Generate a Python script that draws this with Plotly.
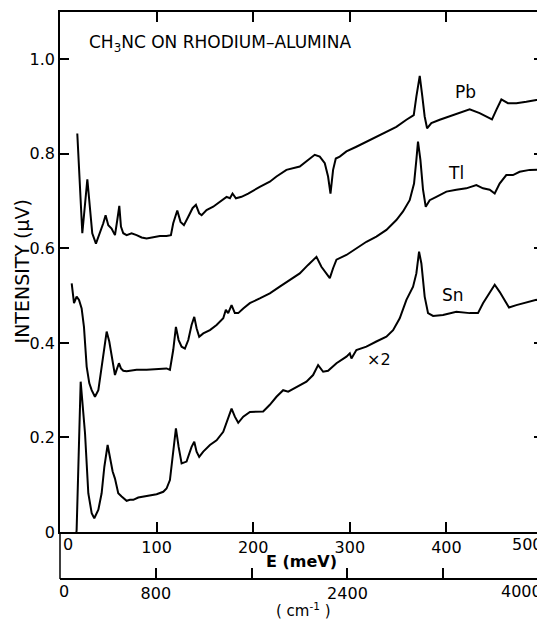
import plotly.graph_objects as go

# ---------------- data (E in meV, intensity in microvolts) ----------------
pb_E = [17.9, 23.1, 28.3, 31.0, 33.4, 37.2, 41.4, 44.8, 47.2, 50.0, 53.4, 56.9, 59.3, 61.4, 63.1,
        65.5, 69.0, 74.1, 79.3, 84.5, 89.7, 96.6, 103.4, 110.3, 114.8, 117.2, 121.4, 124.8, 128.3,
        132.8, 137.2, 140.7, 144.1, 146.6, 151.7, 158.6, 165.5, 172.4, 175.9, 178.6, 182.1, 187.9,
        194.8, 201.7, 206.8, 217.2, 224.1, 234.4, 248.2, 256.8, 263.7, 268.9, 274.1, 277.5, 280.0,
        282.7, 285.5, 289.6, 296.5, 306.8, 317.2, 327.5, 337.9, 348.2, 358.6, 366.2, 368.9, 372.4,
        375.1, 377.5, 380.0, 384.4, 393.1, 403.4, 413.7, 424.1, 434.4, 441.3, 447.2, 451.7, 456.9,
        463.7, 472.4, 482.7, 493.1, 500.0]
pb_I = [0.843, 0.632, 0.746, 0.681, 0.632, 0.610, 0.632, 0.653, 0.670, 0.649, 0.642, 0.628, 0.660,
        0.690, 0.646, 0.632, 0.628, 0.632, 0.628, 0.623, 0.621, 0.623, 0.626, 0.626, 0.628, 0.653,
        0.680, 0.656, 0.649, 0.667, 0.685, 0.692, 0.674, 0.670, 0.681, 0.688, 0.699, 0.709, 0.706,
        0.716, 0.706, 0.709, 0.716, 0.725, 0.730, 0.741, 0.752, 0.766, 0.773, 0.787, 0.798, 0.794,
        0.780, 0.752, 0.716, 0.766, 0.790, 0.794, 0.805, 0.815, 0.826, 0.836, 0.847, 0.857, 0.872,
        0.882, 0.921, 0.965, 0.921, 0.879, 0.854, 0.865, 0.872, 0.879, 0.886, 0.894, 0.886, 0.879,
        0.873, 0.893, 0.915, 0.907, 0.907, 0.910, 0.914, 0.915]

tl_E = [12.1, 14.5, 17.2, 19.7, 22.4, 24.8, 27.6, 30.3, 32.8, 36.2, 39.7, 43.1, 45.9, 48.3, 51.0,
        54.5, 56.9, 58.6, 61.0, 63.1, 65.5, 69.0, 79.3, 89.7, 100.0, 110.3, 113.8, 117.2, 120.0,
        122.8, 125.9, 129.3, 132.8, 136.2, 139.0, 141.4, 144.1, 148.3, 155.2, 162.1, 169.0, 171.7,
        174.1, 177.6, 181.0, 184.5, 189.7, 196.5, 206.8, 217.2, 227.5, 237.9, 248.2, 256.8, 262.0,
        265.5, 270.6, 275.8, 279.3, 282.7, 286.2, 296.5, 306.8, 317.2, 327.5, 337.9, 348.2, 355.1,
        362.0, 366.5, 368.9, 370.6, 373.1, 375.8, 378.6, 382.7, 389.6, 400.0, 410.3, 420.6, 431.0,
        437.9, 444.8, 450.0, 455.1, 462.0, 468.9, 475.8, 486.2, 500.0]
tl_I = [0.526, 0.484, 0.498, 0.491, 0.473, 0.434, 0.350, 0.315, 0.300, 0.286, 0.300, 0.350, 0.399,
        0.424, 0.403, 0.364, 0.332, 0.343, 0.357, 0.346, 0.341, 0.340, 0.343, 0.343, 0.344, 0.346,
        0.343, 0.385, 0.434, 0.406, 0.392, 0.388, 0.406, 0.438, 0.455, 0.431, 0.413, 0.420, 0.427,
        0.438, 0.452, 0.470, 0.463, 0.480, 0.463, 0.463, 0.473, 0.484, 0.494, 0.505, 0.519, 0.533,
        0.547, 0.565, 0.576, 0.582, 0.561, 0.547, 0.537, 0.558, 0.576, 0.586, 0.600, 0.614, 0.625,
        0.639, 0.660, 0.678, 0.702, 0.737, 0.787, 0.826, 0.787, 0.724, 0.688, 0.702, 0.709, 0.720,
        0.724, 0.727, 0.734, 0.727, 0.724, 0.716, 0.737, 0.755, 0.755, 0.762, 0.766, 0.767]

sn_E = [17.0, 17.2, 21.4, 25.9, 29.3, 32.8, 35.5, 39.7, 43.1, 45.9, 49.3, 51.7, 54.5, 56.9, 60.3,
        63.8, 69.0, 72.4, 75.9, 81.0, 86.2, 93.1, 100.0, 106.9, 110.3, 113.8, 117.2, 120.0, 122.8,
        125.9, 131.0, 136.2, 139.0, 141.4, 144.1, 148.3, 155.2, 162.1, 169.0, 172.4, 177.6, 181.0,
        184.5, 189.7, 196.6, 210.3, 217.2, 224.1, 231.0, 236.2, 244.8, 255.1, 262.0, 267.2, 272.4,
        277.5, 286.2, 296.5, 300.0, 301.7, 306.8, 317.2, 327.5, 337.9, 344.8, 351.7, 358.6, 365.5,
        368.9, 371.7, 374.1, 377.5, 381.0, 386.2, 396.5, 410.3, 424.1, 432.7, 437.9, 444.8, 450.0,
        455.1, 460.3, 464.8, 472.4, 482.7, 493.1, 500.0]
sn_I = [0.000, 0.004, 0.318, 0.209, 0.082, 0.040, 0.029, 0.047, 0.082, 0.138, 0.184, 0.159, 0.128,
        0.113, 0.082, 0.075, 0.066, 0.068, 0.068, 0.073, 0.075, 0.078, 0.080, 0.085, 0.092, 0.110,
        0.173, 0.219, 0.180, 0.145, 0.149, 0.180, 0.191, 0.170, 0.159, 0.170, 0.184, 0.194, 0.212,
        0.233, 0.261, 0.244, 0.231, 0.244, 0.254, 0.255, 0.269, 0.286, 0.300, 0.297, 0.307, 0.318,
        0.332, 0.353, 0.339, 0.341, 0.357, 0.371, 0.378, 0.367, 0.385, 0.392, 0.403, 0.413, 0.427,
        0.452, 0.491, 0.519, 0.547, 0.593, 0.568, 0.498, 0.463, 0.457, 0.459, 0.466, 0.463, 0.463,
        0.484, 0.508, 0.523, 0.508, 0.491, 0.475, 0.480, 0.485, 0.491, 0.489]

x_ticks = [100, 200, 300, 400]
x_ticktext = ["100", "200", "300", "400"]
y_ticks = [0, 0.2, 0.4, 0.6, 0.8, 1.0]
y_ticktext = ["0", "0.2", "0.4", "0.6", "0.8", "1.0"]
wn_ticks = [800, 2400]
wn_ticktext = ["800", "2400"]
wn_minor = [1600, 3200, 4000]
MEV_TO_CM = 8.0655

FONT = "DejaVu Sans"
X_MAX = 500
Y_RANGE = [0, 1.1]
MAIN_BOTTOM = 0.0829  # fraction of plot area occupied by the cm-1 scale

fig = go.Figure()
fig.add_trace(go.Scatter(x=pb_E, y=pb_I, mode="lines", line=dict(color="black", width=2),
                         showlegend=False, hoverinfo="skip"))
fig.add_trace(go.Scatter(x=tl_E, y=tl_I, mode="lines", line=dict(color="black", width=2),
                         showlegend=False, hoverinfo="skip"))
# Sn spectrum drawn on the wavenumber scale (same geometry as the meV scale)
fig.add_trace(go.Scatter(x=[e * MEV_TO_CM for e in sn_E], y=sn_I, xaxis="x2", yaxis="y",
                         mode="lines", line=dict(color="black", width=2),
                         showlegend=False, hoverinfo="skip"))

axis_common = dict(showline=True, linecolor="black", linewidth=1.5,
                   ticks="inside", tickcolor="black", tickwidth=1.5,
                   showgrid=False, zeroline=False, automargin=False,
                   tickfont=dict(family=FONT, size=16, color="black"))

fig.update_layout(
    width=537, height=611,
    margin=dict(l=52, r=2, t=4, b=40),
    paper_bgcolor="white", plot_bgcolor="white",
    xaxis=dict(range=[0, X_MAX], domain=[0, 1], anchor="y", mirror="ticks",
               tickvals=x_ticks, ticktext=x_ticktext, ticklen=10, **axis_common),
    yaxis=dict(range=Y_RANGE, domain=[MAIN_BOTTOM, 1], anchor="x", mirror="ticks",
               tickvals=y_ticks, ticktext=y_ticktext, ticklen=9, **axis_common),
    xaxis2=dict(range=[0, X_MAX * MEV_TO_CM], overlaying="x", anchor="free", position=0,
                side="bottom", tickvals=wn_ticks, ticktext=wn_ticktext, ticklen=10,
                minor=dict(tickvals=wn_minor, ticks="inside", ticklen=10,
                           tickcolor="black", tickwidth=1.5),
                **axis_common),
)

# left connector of the cm-1 scale
fig.add_shape(type="line", xref="paper", yref="paper", x0=0, x1=0, y0=0, y1=MAIN_BOTTOM,
              line=dict(color="black", width=1.5))

def ann(text, x, y, size=16, xref="x", yref="y", **kw):
    fig.add_annotation(text=text, x=x, y=y, xref=xref, yref=yref, showarrow=False,
                       font=dict(family=FONT, size=size, color="black"), **kw)

ann("CH<sub>3</sub>NC ON RHODIUM–ALUMINA", 28, 1.034, size=17, xanchor="left", yanchor="middle")
ann("Pb", 420, 0.931, size=17)
ann("Tl", 410, 0.759, size=17)
ann("Sn", 407, 0.501, size=17)
ann("×2", 330, 0.364, size=16)
# edge tick labels
ann("0", 8.5, MAIN_BOTTOM, xref="x", yref="paper", yanchor="top", yshift=-1)
ann("500", 484, MAIN_BOTTOM, xref="x", yref="paper", yanchor="top", yshift=-1)
ann("0", 4, 0, xref="x", yref="paper", yanchor="top", yshift=-1)
ann("4000", 478, 0, xref="x", yref="paper", yanchor="top", yshift=-1)
# axis titles
ann("<b>E (meV)</b>", 0.5, 0.0317, xref="paper", yref="paper", size=16,
    xanchor="center", yanchor="middle")
ann("( cm<sup>-1</sup> )", 0.505, -0.054, xref="paper", yref="paper", size=15,
    xanchor="center", yanchor="middle")
ann("INTENSITY (μV)", -0.078, 0.543, xref="paper", yref="paper", size=19, textangle=-90,
    xanchor="center", yanchor="middle")

fig.write_html("out.html")
